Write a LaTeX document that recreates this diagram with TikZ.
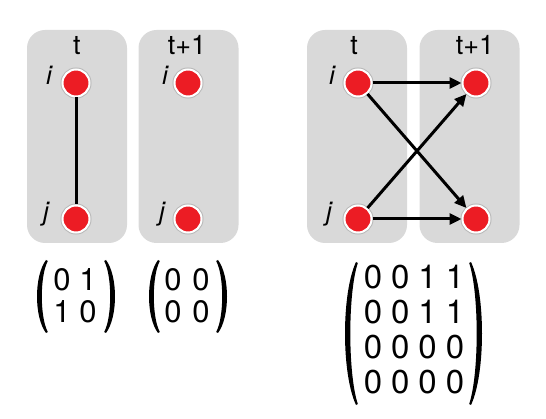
\documentclass[tikz,border=0pt]{standalone}
\usepackage{fontspec}
\setmainfont{TeX Gyre Heros}
\usetikzlibrary{arrows.meta,matrix}
\definecolor{boxgray}{HTML}{D9D9D9}
\definecolor{nodered}{HTML}{EC1C24}
% left paren: #1 end x, #2 top y, #3 bottom y, #4 bulge, #5 thickness
\newcommand\myparenL[5]{%
  \fill (#1,#2) .. controls ({#1-1.333*#4},{#2+0.22*(#3-#2)}) and ({#1-1.333*#4},{#3-0.22*(#3-#2)}) .. (#1,#3)
    -- ({#1+1.8},{#3-1}) .. controls ({#1-1.333*(#4-#5)+1.8},{#3-0.22*(#3-#2)}) and ({#1-1.333*(#4-#5)+1.8},{#2+0.22*(#3-#2)}) .. ({#1+1.8},{#2+1}) -- cycle;}
\newcommand\myparenR[5]{%
  \fill (#1,#2) .. controls ({#1+1.333*#4},{#2+0.22*(#3-#2)}) and ({#1+1.333*#4},{#3-0.22*(#3-#2)}) .. (#1,#3)
    -- ({#1-1.8},{#3-1}) .. controls ({#1+1.333*(#4-#5)-1.8},{#3-0.22*(#3-#2)}) and ({#1+1.333*(#4-#5)-1.8},{#2+0.22*(#3-#2)}) .. ({#1-1.8},{#2+1}) -- cycle;}
\tikzset{
  panel/.style={fill=boxgray, rounded corners=18pt, minimum width=100pt, minimum height=213pt, inner sep=0pt},
  vert/.style={circle, fill=nodered, draw=white, line width=2pt, minimum size=27pt, inner sep=0pt,
    preaction={draw=black!28, line width=4pt}},
  tlabel/.style={anchor=base, font=\fontsize{27}{30}\selectfont, inner sep=0pt},
  vlabel/.style={anchor=base, font=\fontsize{26}{30}\selectfont\itshape, inner sep=0pt},
  edgeline/.style={line width=3pt},
  arr/.style={line width=3pt, -{Triangle[length=12pt,width=11pt]}},
  digmat/.style={matrix of nodes, column sep=0pt, row sep=0pt,
    nodes={inner sep=0pt, anchor=center}},
}
\begin{document}
\begin{tikzpicture}[x=1pt,y=-1pt]
\useasboundingbox (0,0) rectangle (546,419);
% panels
\node[panel] (p1) at (77,136.5) {};
\node[panel] (p2) at (188.5,136.5) {};
\node[panel] (p3) at (357,136.5) {};
\node[panel] (p4) at (469.5,136.5) {};
% time labels
\node[tlabel] (t1) at (77,55) {t};
\node[tlabel] (t2) at (187,55) {t+1};
\node[tlabel] (t3) at (354,55) {t};
\node[tlabel] (t4) at (475,55) {t+1};
% vertices
\node[vert] (i1) at (76,83) {};
\node[vert] (j1) at (76,219) {};
\node[vert] (i2) at (188,83) {};
\node[vert] (j2) at (188,219) {};
\node[vert] (i3) at (358,83) {};
\node[vert] (j3) at (358,219) {};
\node[vert] (i4) at (476,83) {};
\node[vert] (j4) at (476,219) {};
% vertex labels
\node[vlabel] (li1) at (49,85) {i};
\node[vlabel] (lj1) at (46,221) {j};
\node[vlabel] (li2) at (165,85) {i};
\node[vlabel] (lj2) at (162,221) {j};
\node[vlabel] (li3) at (332,85) {i};
\node[vlabel] (lj3) at (329,221) {j};
% connectors
\draw[edgeline] (i1) -- (j1);
\draw[arr] (i3) -- (i4);
\draw[arr] (j3) -- (j4);
\draw[arr] (i3) -- (j4);
\draw[arr] (j3) -- (i4);
% matrices
\matrix (m1) [digmat, nodes={minimum width=26pt, minimum height=32pt, font=\fontsize{31}{32}\selectfont}] at (75,296) {
  0 & 1 \\
  1 & 0 \\
};
\matrix (m2) [digmat, nodes={minimum width=28pt, minimum height=32pt, font=\fontsize{31}{32}\selectfont}] at (187,296) {
  0 & 0 \\
  0 & 0 \\
};
\matrix (m3) [digmat, nodes={minimum width=27.3pt, minimum height=35pt, font=\fontsize{33}{35}\selectfont}] at (414,329.5) {
  0 & 0 & 1 & 1 \\
  0 & 0 & 1 & 1 \\
  0 & 0 & 0 & 0 \\
  0 & 0 & 0 & 0 \\
};
% parentheses
\myparenL{46}{260}{333}{9}{3}
\myparenR{106}{260}{333}{9}{3}
\myparenL{158}{260}{333}{9}{3}
\myparenR{218}{260}{333}{9}{3}
\myparenL{356}{262}{405}{11}{3.5}
\myparenR{471}{262}{405}{11}{3.5}
\end{tikzpicture}
\end{document}
